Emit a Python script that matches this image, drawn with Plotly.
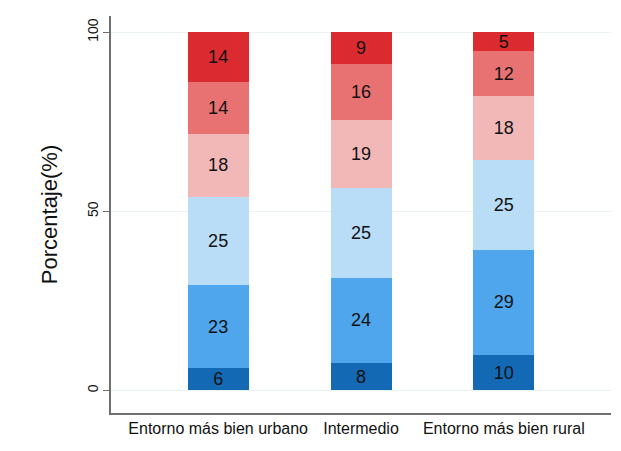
import plotly.graph_objects as go

# Categories and stacked shares (%), bottom segment first
CATEGORIES = ["Entorno más bien urbano", "Intermedio", "Entorno más bien rural"]

SEG_1 = [6.3, 7.6, 10.0]
SEG_2 = [23.0, 23.9, 29.1]
SEG_3 = [24.6, 25.0, 25.2]
SEG_4 = [17.8, 18.9, 17.9]
SEG_5 = [14.4, 15.7, 12.4]
SEG_6 = [13.9, 8.9, 5.4]

SERIES = [SEG_1, SEG_2, SEG_3, SEG_4, SEG_5, SEG_6]
COLORS = ["#1369b4", "#4fa6ec", "#b9dcf7", "#f2b8b8", "#e87272", "#dc2b30"]

Y_TICKS = [0, 50, 100]

fig = go.Figure()
for vals, color in zip(SERIES, COLORS):
    fig.add_trace(go.Bar(
        x=CATEGORIES, y=vals,
        marker=dict(color=color, line=dict(width=0)),
        width=0.427,
        texttemplate="%{y:.0f}",
        textposition="inside",
        insidetextanchor="middle",
        textangle=0,
        textfont=dict(color="#111111", size=18, family="Liberation Sans, Arial"),
        constraintext="none",
        showlegend=False,
    ))

fig.update_layout(
    barmode="stack",
    width=621, height=451,
    plot_bgcolor="white",
    paper_bgcolor="white",
    font=dict(family="Liberation Sans, Arial", color="#111111"),
    margin=dict(l=103, r=18, t=8, b=46),
    uniformtext=dict(mode="show", minsize=18),
)
fig.update_xaxes(
    range=[-0.75, 2.75],
    showline=True, linecolor="#6e6e6e", linewidth=1.5,
    ticks="", showgrid=False,
    tickfont=dict(size=16, color="#111111"),
)
fig.update_yaxes(
    range=[-6.3, 104.5],
    tickvals=Y_TICKS,
    tickangle=-90,
    showline=True, linecolor="#6e6e6e", linewidth=1.5,
    ticks="outside", ticklen=6, tickcolor="#6e6e6e",
    showgrid=True, gridcolor="#eaf2f3", gridwidth=1,
    zeroline=False,
    tickfont=dict(size=14, color="#111111"),
    title=dict(text="Porcentaje(%)", font=dict(size=22, color="#111111"), standoff=21),
)

fig.write_html("out.html")
